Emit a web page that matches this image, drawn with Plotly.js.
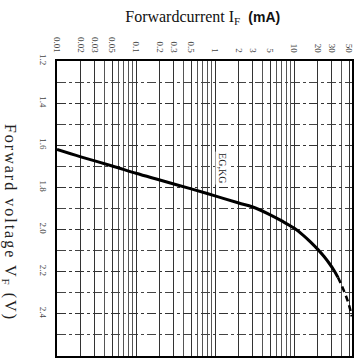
<!DOCTYPE html>
<html>
<head>
<meta charset="utf-8">
<script src="https://cdn.plot.ly/plotly-3.0.1.min.js"></script>
<style>
  html, body { margin: 0; padding: 0; background: #fff; }
  #chart { width: 362px; height: 358px; }
</style>
</head>
<body>
<div id="chart"></div>
<script>
// Forward current (mA) vs forward voltage (V), EG/KG type
const currentMA = [0.01, 0.02, 0.05, 0.1, 0.2, 0.5, 1, 2, 3, 5, 7, 10, 13, 16, 20, 24, 28, 32, 36];
const voltageV  = [1.62, 1.655, 1.698, 1.733, 1.765, 1.807, 1.84, 1.874, 1.893, 1.93, 1.959, 1.993, 2.026, 2.057, 2.094, 2.128, 2.161, 2.193, 2.227];

// extrapolated tail (dashed)
const tailCurrentMA = [36, 40, 45, 50, 54];
const tailVoltageV  = [2.227, 2.264, 2.311, 2.362, 2.412];

// labelled current ticks
const xTickVals = [0.01, 0.02, 0.03, 0.05, 0.1, 0.2, 0.3, 0.5, 1, 2, 3, 5, 10, 20, 30, 50];
const xTickText = ['0.01', '0.02', '0.03', '0.05', '0.1', '0.2', '0.3', '0.5', '1', '2', '3', '5', '10', '20', '30', '50'];
// unlabelled log-paper lines
const xMinorVals = [0.04, 0.06, 0.07, 0.08, 0.09, 0.4, 0.6, 0.7, 0.8, 0.9, 4, 6, 7, 8, 9, 40];

// voltage ticks
const yTickVals = [1.2, 1.4, 1.6, 1.8, 2.0, 2.2, 2.4, 2.6];
const yTickText = ['1.2', '1.4', '1.6', '1.8', '2.0', '2.2', '2.4', '2.6'];

const serif = 'Liberation Serif, Times New Roman, serif';

const traces = [
  {
    x: currentMA, y: voltageV, type: 'scatter', mode: 'lines',
    line: { color: '#000', width: 3, shape: 'spline', smoothing: 1 },
    hoverinfo: 'skip', showlegend: false
  },
  {
    x: tailCurrentMA, y: tailVoltageV, type: 'scatter', mode: 'lines',
    line: { color: '#000', width: 2.5, dash: '6px,4px', shape: 'spline', smoothing: 1 },
    hoverinfo: 'skip', showlegend: false
  }
];

const layout = {
  width: 362, height: 358,
  margin: { l: 57, r: 10, t: 61, b: 2 },
  paper_bgcolor: '#fff', plot_bgcolor: '#fff',
  showlegend: false,
  title: {
    text: 'Forwardcurrent I<sub>F</sub>  <span style="font-family:Liberation Sans, Arial, sans-serif;font-weight:bold;font-size:14px">(mA)</span>',
    font: { family: serif, size: 16, color: '#111' },
    xref: 'container', yref: 'container',
    x: 0.56, xanchor: 'center', y: 0.955, yanchor: 'middle'
  },
  xaxis: {
    type: 'log', side: 'top',
    range: [-2, 1.734],
    tickmode: 'array', tickvals: xTickVals, ticktext: xTickText,
    tickangle: 90,
    tickfont: { family: serif, size: 9, color: '#444' },
    ticks: '', ticklabelstandoff: 3,
    showline: true, mirror: true, linecolor: '#000', linewidth: 2,
    showgrid: true, gridcolor: '#333', gridwidth: 1,
    minor: { tickmode: 'array', tickvals: xMinorVals, showgrid: true, gridcolor: '#555', gridwidth: 1, ticks: '' },
    zeroline: false, fixedrange: true
  },
  yaxis: {
    range: [2.6, 1.2],
    tickmode: 'array', tickvals: yTickVals, ticktext: yTickText,
    tickangle: 90,
    tickfont: { family: serif, size: 9, color: '#444' },
    ticks: '', ticklabelstandoff: 4,
    showline: true, mirror: true, linecolor: '#000', linewidth: 2,
    showgrid: true, gridcolor: '#333', gridwidth: 1, griddash: 'dashdot',
    minor: { dtick: 0.1, showgrid: true, gridcolor: '#444', gridwidth: 1, griddash: 'dashdot', ticks: '' },
    zeroline: false, fixedrange: true
  },
  annotations: [
    {
      text: 'EG,KG', x: Math.log10(1.26), y: 1.708, xref: 'x', yref: 'y',
      showarrow: false, textangle: 90,
      font: { family: serif, size: 10, color: '#222' },
      bgcolor: '#fff'
    },
    {
      text: '<span style="letter-spacing:2px">Forward voltage V<sub>F</sub> (V)</span>',
      xref: 'paper', yref: 'paper', x: -0.159, y: 0.454,
      xanchor: 'center', yanchor: 'middle',
      showarrow: false, textangle: 90,
      font: { family: serif, size: 16, color: '#222' }
    }
  ]
};

Plotly.newPlot('chart', traces, layout, { displayModeBar: false, staticPlot: true });
</script>
</body>
</html>
